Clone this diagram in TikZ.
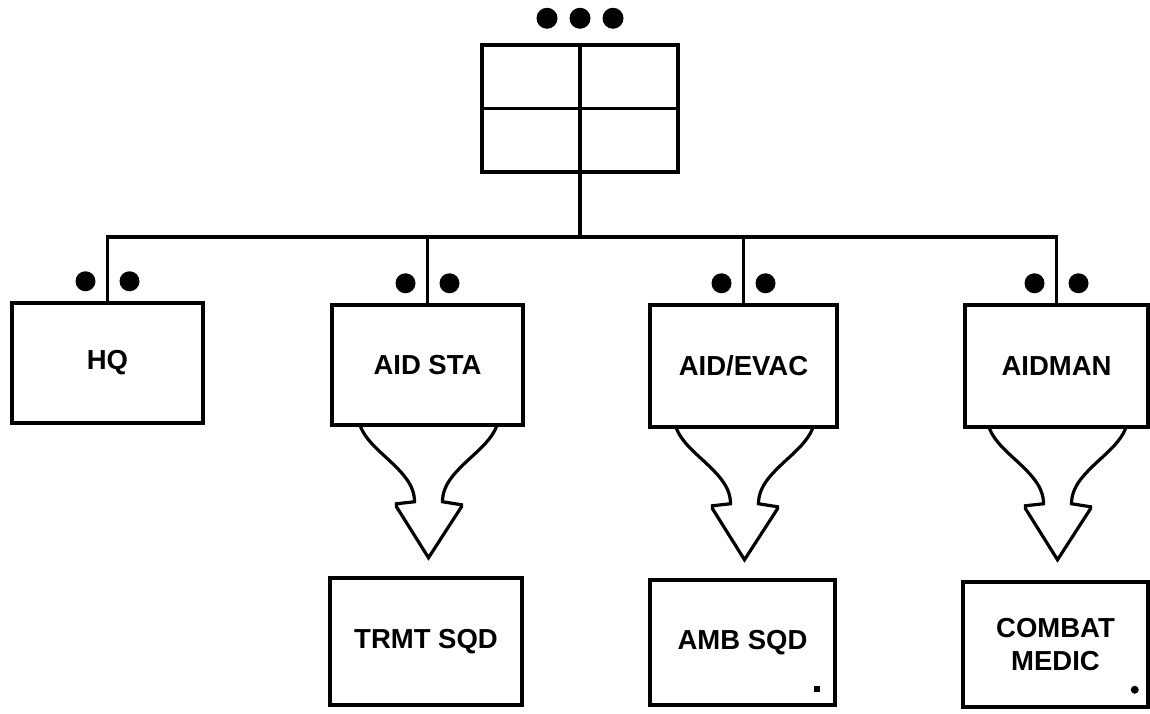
\documentclass[tikz,border=0pt]{standalone}
\usepackage{fontspec}
\setmainfont{Liberation Sans}
\usetikzlibrary{calc}
\newcommand{\forkarrow}[1]{%
  \begin{scope}[shift={(#1.south)}]
    \draw[arrowline] (-67,0) .. controls (-62,12) and (-52,21) .. (-40,32)
      .. controls (-25,46) and (-13,58) .. (-13,75)
      -- (-31,77) -- (-31,80) -- (1,131) -- (34,80) -- (34,78) -- (15,75)
      .. controls (15,58) and (27,46) .. (42,32)
      .. controls (54,21) and (64,12) .. (69,0);
  \end{scope}}
\begin{document}
\begin{tikzpicture}[x=1pt,y=-1pt,
  box/.style={draw,line width=3.5pt,inner sep=0pt,align=center,
    font=\fontsize{27.5}{33}\selectfont\bfseries},
  wire/.style={line width=3.5pt},
  arrowline/.style={line width=3.2pt,line join=miter}]
\useasboundingbox (0,0) rectangle (1150,713);

% top unit symbol
\node[draw,line width=3.5pt,minimum width=196pt,minimum height=127pt] (top) at (580,108.5) {};
\draw[wire] (top.north) -- (top.south);
\draw[wire] (top.west) -- (top.east);
\foreach \dx in {-33,0,33} \fill ($(top.north)+(\dx,-25)$) circle[radius=10.5pt];

% first-level boxes
\node[box,minimum width=191pt,minimum height=120pt] (hq) at (107.5,363) {HQ};
\node[box,minimum width=191pt,minimum height=120pt] (aidsta) at (427.5,365) {AID STA};
\node[box,minimum width=187pt,minimum height=122pt] (aidevac) at (743.5,366) {AID/EVAC};
\node[box,minimum width=183pt,minimum height=122pt] (aidman) at (1056.5,366) {AIDMAN};

% second-level boxes
\node[box,minimum width=192pt,minimum height=127pt] (trmt) at (426,641.5) {TRMT SQD};
\node[box,minimum width=185pt,minimum height=125pt] (amb) at (742.5,642.5) {AMB SQD};
\node[box,minimum width=185pt,minimum height=125pt] (combat) at (1055.5,644.5) {COMBAT\\MEDIC};

% bus
\coordinate (bus) at (581,237);
\draw[wire] (top.south) -- (top.south |- bus);
\draw[wire] (hq.north) |- (bus) -| (aidman.north);
\draw[wire] (aidsta.north) -- (aidsta.north |- bus);
\draw[wire] (aidevac.north) -- (aidevac.north |- bus);

% echelon dots
\foreach \n in {hq,aidsta,aidevac,aidman}{
  \fill ($(\n.north)+(-22,-20)$) circle[radius=10pt];
  \fill ($(\n.north)+(22,-20)$) circle[radius=10pt];
}

% fork arrows
\forkarrow{aidsta}
\forkarrow{aidevac}
\forkarrow{aidman}

% small marks
\fill ($(amb.south east)+(-23,-21)$) rectangle ++(6,6);
\fill ($(combat.south east)+(-15,-19)$) circle[radius=4pt];
\end{tikzpicture}
\end{document}
